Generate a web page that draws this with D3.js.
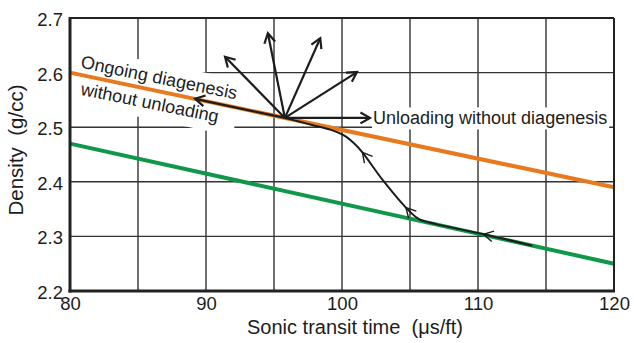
<!DOCTYPE html>
<html>
<head>
<meta charset="utf-8">
<script src="https://cdn.jsdelivr.net/npm/d3@7"></script>
<style>
  html, body { margin: 0; padding: 0; background: #fff; }
  svg { display: block; font-family: "Liberation Sans", Arial, Helvetica, sans-serif; }
</style>
</head>
<body>
<svg id="chart" width="634" height="343"></svg>
<script>
// Axis ticks and grid positions
const xTickValues = [80, 90, 100, 110, 120];
const xGridValues = [85, 90, 95, 100, 105, 110, 115];
const yTickValues = [2.2, 2.3, 2.4, 2.5, 2.6, 2.7];

// Trend lines: [sonic transit time (us/ft), density (g/cc)]
const upperTrend = [[80, 2.60], [120, 2.39]];
const lowerTrend = [[80, 2.47], [120, 2.25]];

// Burial pathway, travelled from the lower trend up to the pivot point
const burialPath = [
  [114.0, 2.283], [110.4, 2.304], [107.0, 2.322], [105.7, 2.331],
  [105.0, 2.345], [103.0, 2.403], [101.5, 2.454], [100.9, 2.470],
  [100.2, 2.484], [99.2, 2.495], [97.8, 2.504], [96.9, 2.510], [95.8, 2.517]
];
// Transit times where direction chevrons sit on the pathway
const pathArrowX = [110.4, 104.7, 101.5];

// Vector tips fanning out from the pivot point
const vectorTips = [
  [89.2, 2.552], [91.4, 2.629], [94.55, 2.672],
  [98.4, 2.663], [101.1, 2.601], [102.06, 2.517]
];

const xTitle = "Sonic transit time  (\u03BCs/ft)";
const yTitle = "Density  (g/cc)";
const upperLabel = ["Ongoing diagenesis", "without unloading"];
const sideLabel = "Unloading without diagenesis";

const W = 634, H = 343;
const margin = { top: 18, right: 20, bottom: 52, left: 70 };
const x = d3.scaleLinear().domain([80, 120]).range([margin.left, W - margin.right]);
const y = d3.scaleLinear().domain([2.2, 2.7]).range([H - margin.bottom, margin.top]);

const ORANGE = "#e8791e";
const GREEN = "#0f974a";
const INK = "#1c1c1c";
const GRID = "#333";

const svg = d3.select("#chart");

// Grid
const grid = svg.append("g");
grid.selectAll(".vg").data(xGridValues).join("line")
  .attr("x1", d => x(d)).attr("x2", d => x(d))
  .attr("y1", y(2.2)).attr("y2", y(2.7))
  .attr("stroke", GRID).attr("stroke-width", 1.4);
grid.selectAll(".hg").data(yTickValues.slice(1, -1)).join("line")
  .attr("y1", d => y(d)).attr("y2", d => y(d))
  .attr("x1", x(80)).attr("x2", x(120))
  .attr("stroke", GRID).attr("stroke-width", 1.4);

const line = d3.line().x(d => x(d[0])).y(d => y(d[1]));

// Layers: white label boxes, trend lines, labels, black vectors
const boxLayer = svg.append("g");
const trendLayer = svg.append("g");
const textLayer = svg.append("g");
const inkLayer = svg.append("g");

trendLayer.append("path").datum(lowerTrend).attr("d", line)
  .attr("fill", "none").attr("stroke", GREEN).attr("stroke-width", 4);
trendLayer.append("path").datum(upperTrend).attr("d", line)
  .attr("fill", "none").attr("stroke", ORANGE).attr("stroke-width", 4);

// Open chevron arrowhead at a tip, pointing along angle
function chevron(g, tx, ty, ang, len, half, width) {
  const p1 = [tx - len * Math.cos(ang - half), ty - len * Math.sin(ang - half)];
  const p2 = [tx - len * Math.cos(ang + half), ty - len * Math.sin(ang + half)];
  g.append("path")
    .attr("d", `M${p1[0]},${p1[1]}L${tx},${ty}L${p2[0]},${p2[1]}`)
    .attr("fill", "none").attr("stroke", INK)
    .attr("stroke-width", width).attr("stroke-linejoin", "miter").attr("stroke-linecap", "butt");
}

// Burial pathway
const pathLine = d3.line().x(d => x(d[0])).y(d => y(d[1])).curve(d3.curveCatmullRom.alpha(0.5));
const pathEl = inkLayer.append("path").datum(burialPath).attr("d", pathLine)
  .attr("fill", "none").attr("stroke", INK).attr("stroke-width", 2).node();

const total = pathEl.getTotalLength();
pathArrowX.forEach(xv => {
  const target = x(xv);
  let lo = 0, hi = total;
  for (let i = 0; i < 40; i++) {
    const mid = (lo + hi) / 2;
    if (pathEl.getPointAtLength(mid).x > target) lo = mid; else hi = mid;
  }
  const L = (lo + hi) / 2;
  const p = pathEl.getPointAtLength(L);
  const a = pathEl.getPointAtLength(Math.max(0, L - 2));
  const b = pathEl.getPointAtLength(Math.min(total, L + 2));
  chevron(inkLayer, p.x, p.y, Math.atan2(b.y - a.y, b.x - a.x), 11, 0.5, 1.4);
});

// Vectors from the pivot
const pivot = burialPath[burialPath.length - 1];
const px = x(pivot[0]), py = y(pivot[1]);
vectorTips.forEach(t => {
  const tx = x(t[0]), ty = y(t[1]);
  inkLayer.append("line").attr("x1", px).attr("y1", py).attr("x2", tx).attr("y2", ty)
    .attr("stroke", INK).attr("stroke-width", 2.2);
  chevron(inkLayer, tx, ty, Math.atan2(ty - py, tx - px), 11, 0.52, 2.2);
});

// Label at the horizontal vector
const rightTip = vectorTips[vectorTips.length - 1];
const sideText = textLayer.append("text")
  .attr("x", x(rightTip[0]) + 3).attr("y", y(rightTip[1]) + 6.5)
  .attr("font-size", 18).attr("fill", INK).text(sideLabel);
const sb = sideText.node().getBBox();
boxLayer.append("rect")
  .attr("x", sb.x - 1).attr("y", sb.y - 1)
  .attr("width", sb.width + 3).attr("height", sb.height + 2)
  .attr("fill", "#fff");

// Rotated label along the upper trend
const labelTransform = `translate(${x(upperTrend[0][0]) + 10},${y(upperTrend[0][1]) - 5}) rotate(11.5)`;
const rot = textLayer.append("g").attr("transform", labelTransform);
const rotBox = boxLayer.append("g").attr("transform", labelTransform);
const t1 = rot.append("text").attr("x", 0).attr("y", 0)
  .attr("font-size", 18).attr("fill", INK).text(upperLabel[0]);
const t2 = rot.append("text").attr("x", 5.4).attr("y", 26.5)
  .attr("font-size", 18).attr("fill", INK).text(upperLabel[1]);
const b1 = t1.node().getBBox(), b2 = t2.node().getBBox();
const bx0 = Math.min(b1.x, b2.x) - 4, bx1 = Math.max(b1.x + b1.width, b2.x + b2.width) + 4;
const by0 = b1.y - 4, by1 = b2.y + b2.height + 6;
rotBox.append("rect").attr("x", bx0).attr("y", by0)
  .attr("width", bx1 - bx0).attr("height", by1 - by0).attr("fill", "#fff");

// Frame
const frame = svg.append("g").attr("fill", "none").attr("stroke", "#222");
frame.append("line").attr("x1", x(80)).attr("x2", x(120)).attr("y1", y(2.7)).attr("y2", y(2.7)).attr("stroke-width", 2);
frame.append("line").attr("x1", x(120)).attr("x2", x(120)).attr("y1", y(2.7)).attr("y2", y(2.2)).attr("stroke-width", 2);
frame.append("line").attr("x1", x(80)).attr("x2", x(80)).attr("y1", y(2.7) - 1).attr("y2", y(2.2) + 1.5).attr("stroke-width", 3);
frame.append("line").attr("x1", x(80) - 1.5).attr("x2", x(120) + 1).attr("y1", y(2.2)).attr("y2", y(2.2)).attr("stroke-width", 3);

// Axes (labels only)
const yAxis = svg.append("g").attr("transform", `translate(${x(80)},0)`)
  .call(d3.axisLeft(y).tickValues(yTickValues).tickFormat(d3.format(".1f")).tickSize(0).tickPadding(7));
const xAxis = svg.append("g").attr("transform", `translate(0,${y(2.2)})`)
  .call(d3.axisBottom(x).tickValues(xTickValues).tickFormat(d3.format("d")).tickSize(0).tickPadding(6));
[yAxis, xAxis].forEach(g => {
  g.select(".domain").remove();
  g.selectAll("text").attr("font-size", 18.5).attr("font-family", null).attr("fill", INK);
});
yAxis.selectAll("text").attr("dy", "0.4em");

// Axis titles
svg.append("text")
  .attr("x", 355).attr("y", 334)
  .attr("text-anchor", "middle").attr("font-size", 20).attr("fill", INK)
  .style("white-space", "pre").text(xTitle);
svg.append("text")
  .attr("transform", `translate(23,150) rotate(-90)`)
  .attr("text-anchor", "middle").attr("font-size", 20.5).attr("fill", INK)
  .style("white-space", "pre").text(yTitle);
</script>
</body>
</html>
